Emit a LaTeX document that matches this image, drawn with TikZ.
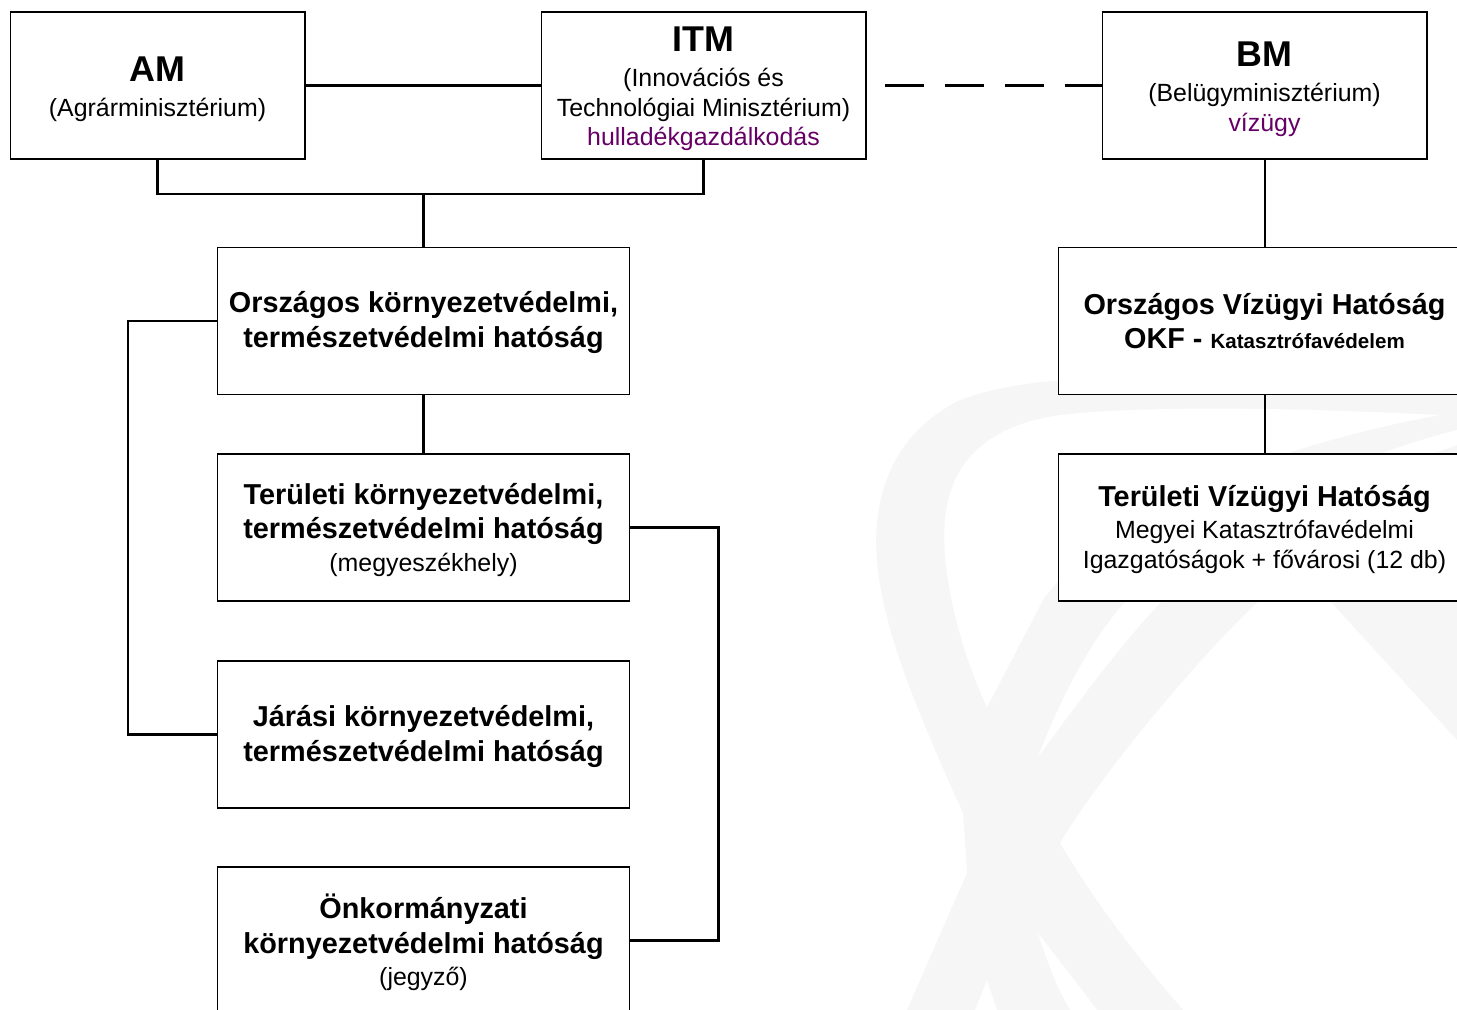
\documentclass[tikz,border=0pt]{standalone}
\usepackage{fontspec}
\setmainfont{Liberation Sans}
\usetikzlibrary{calc}
\definecolor{lila}{HTML}{660066}
\definecolor{wmark}{HTML}{F6F6F6}
\newcommand{\titel}[1]{{\fontsize{20.4}{24}\selectfont\bfseries\rule{0pt}{18pt}#1}}
\newcommand{\normtxt}[1]{{\fontsize{14.17}{17}\selectfont\mdseries #1}}
\newcommand{\hoch}[1]{\rule{0pt}{#1}}

\begin{document}
\begin{tikzpicture}[x=0.02cm,y=-0.02cm,line width=1.15pt,
  box/.style={draw,fill=white,line width=0.6pt,inner sep=0pt,minimum height=2.94cm,align=center,font=\fontsize{14.17}{17}\selectfont},
  topbox/.style={box,minimum width=6.5cm},
  lowbox/.style={box,minimum width=8.26cm,font=\fontsize{16.4}{19.8}\selectfont\bfseries},
  dashline/.style={dash pattern=on 22.1pt off 11.9pt,dash phase=23.2pt}]
	\useasboundingbox (0,0) rectangle (1457,1010);
	\clip (0,0) rectangle (1457,1010);
	\fill[wmark] (907,1010) -- (967,873) -- (963,813) .. controls (930,740) and (895,660) .. (883,600)
		.. controls (865,520) and (880,440) .. (960,400) .. controls (1010,382) and (1060,378) .. (1150,378)
		-- (1457,378) -- (1457,480) .. controls (1380,520) and (1310,555) .. (1260,600)
		.. controls (1220,635) and (1110,760) .. (1060,843) .. controls (1100,910) and (1140,960) .. (1183,1010)
		-- (1097,1010) .. controls (1075,980) and (1055,955) .. (1038,933) .. controls (1048,965) and (1058,990) .. (1070,1010)
		-- (997,1010) -- (987,980) -- (975,1010) -- cycle;
	\fill[white] (987,707) .. controls (960,650) and (940,570) .. (945,520) .. controls (950,460) and (990,425) .. (1060,415)
		.. controls (1150,405) and (1300,408) .. (1440,415) .. controls (1250,450) and (1100,520) .. (1043,600) -- cycle;
	\fill[white] (1038,757) .. controls (1060,700) and (1090,640) .. (1127,600) .. controls (1220,520) and (1340,460) .. (1457,430)
		-- (1457,445) .. controls (1330,490) and (1220,540) .. (1163,600) .. controls (1120,645) and (1080,700) .. (1038,757) -- cycle;
	\fill[wmark] (1330,601) -- (1457,740) -- (1457,601) -- cycle;

	\node[topbox,minimum width=5.9cm] (AM) at (157.5,85.5) {\titel{AM}\\[2.8pt](Agrárminisztérium)};
	\node[topbox] (ITM) at (703.5,85.5) {\titel{ITM}\\[2.8pt](Innovációs és\\Technológiai Minisztérium)\\\textcolor{lila}{hulladékgazdálkodás}};
	\node[topbox] (BM) at (1264.5,85.5) {\titel{BM}\\[2.8pt](Belügyminisztérium)\\\textcolor{lila}{vízügy}};
	\node[lowbox] (OKTH) at (423.5,321) {\hoch{14pt}Országos környezetvédelmi,\\természetvédelmi hatóság};
	\node[lowbox] (TKTH) at ($(OKTH)+(0,206.5)$) {\hoch{14.5pt}Területi környezetvédelmi,\\természetvédelmi hatóság\\[-1.4pt]\normtxt{(megyeszékhely)}};
	\node[lowbox] (JKTH) at ($(TKTH)+(0,207)$) {\hoch{14pt}Járási környezetvédelmi,\\természetvédelmi hatóság};
	\node[lowbox] (OnkH) at ($(JKTH)+(0,206)$) {\hoch{16.5pt}Önkormányzati\\környezetvédelmi hatóság\\[-1.4pt]\normtxt{(jegyző)}};
	\node[lowbox] (OVH) at (1264.5,321) {Országos Vízügyi Hatóság\\OKF - {\fontsize{11.7}{14}\selectfont Katasztrófavédelem}};
	\node[lowbox] (TVH) at ($(OVH)+(0,206.5)$) {\hoch{14pt}Területi Vízügyi Hatóság\\[-1.4pt]\normtxt{Megyei Katasztrófavédelmi}\\[-2.8pt]\normtxt{Igazgatóságok + fővárosi (12 db)}};
	\coordinate (join) at ($(OKTH.north)+(0,-53)$);

	\draw (AM) -- (ITM);
	\draw[dashline] (ITM) -- (BM);
	\draw (AM.south) |- (join) -| (ITM.south);
	\draw (join) -- (OKTH);
	\draw (OKTH) -- (TKTH);
	\draw (OKTH.west) -- ++(-89,0) |- (JKTH.west);
	\draw (TKTH.east) -- ++(88,0) |- (OnkH.east);
	\draw (BM) -- (OVH);
	\draw (OVH) -- (TVH);
\end{tikzpicture}
\end{document}
